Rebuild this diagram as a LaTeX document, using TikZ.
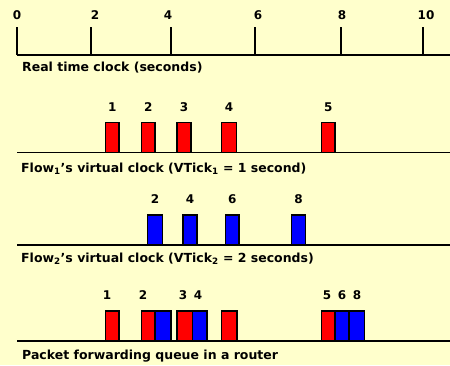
\documentclass[tikz,border=0pt]{standalone}
\usepackage{fontspec}
\setmainfont{DejaVu Sans}
\usetikzlibrary{positioning}
\definecolor{bgyellow}{HTML}{FFFFCC}
\definecolor{pktred}{HTML}{FF0000}
\definecolor{pktblue}{HTML}{0000FF}
\tikzset{
    axis/.style={draw=black, line width=1.5pt},
    tickmark/.style={draw=black, line width=1.3pt},
    num/.style={font=\bfseries\fontsize{12}{13}\selectfont, inner sep=0pt},
    caption/.style={font=\bfseries\fontsize{12.5}{14}\selectfont, inner sep=0pt, anchor=west},
    pkt/.style={draw=black, line width=1.2pt, minimum height=30pt,
        inner sep=0pt, outer sep=0pt, anchor=south west}
}
% packet: name, left x, width, base line y, colour, number above
\newcommand{\pkt}[6]{
    \node[pkt,fill=#5,minimum width=#3pt] (#1) at (#2, #4) {};
    \if\relax\detokenize{#6}\relax\else
        \node[num] (#1n) at ([yshift=15.5pt]#1.north) {#6};
    \fi
}
\newcommand{\timeline}[2]{
    \coordinate (#1a) at (17, #2);
    \coordinate (#1b) at (450, #2);
    \draw[axis] (#1a) -- (#1b);
}

\begin{document}
\begin{tikzpicture}[x=1pt, y=-1pt]
        \useasboundingbox[fill=bgyellow] (0,0) rectangle (450,365);
        % real time
        \timeline{real}{55}
        \foreach \t/\x/\lx in {0/17/17, 2/91/95, 4/171/168, 6/255/258, 8/341/342, 10/423/426} {
            \coordinate (tick\t) at (\x, 55);
            \draw[tickmark] (tick\t) -- ++(0,-28);
            \node[num] (lbl\t) at (\lx, 15) {\t};
        }
        \node[caption] (realcap) at (22, 67.5) {Real time clock (seconds)};
        % flow 1
        \timeline{one}{152.7}
        \pkt{a1}{105.5}{13.5}{152.7}{pktred}{1}
        \pkt{a2}{141.5}{13.5}{152.7}{pktred}{2}
        \pkt{a3}{177}{14}{152.7}{pktred}{3}
        \pkt{a4}{221.5}{15}{152.7}{pktred}{4}
        \pkt{a5}{321.5}{13.5}{152.7}{pktred}{5}
        \node[caption] (onecap) at (21, 168.5) {Flow\textsubscript{1}’s virtual clock (VTick\textsubscript{1} = 1 second)};
        % flow 2
        \timeline{two}{245}
        \pkt{b2}{147.5}{15}{245}{pktblue}{2}
        \pkt{b4}{183}{14}{245}{pktblue}{4}
        \pkt{b6}{225.5}{13.5}{245}{pktblue}{6}
        \pkt{b8}{291.5}{14}{245}{pktblue}{8}
        \node[caption] (twocap) at (21, 258.5) {Flow\textsubscript{2}’s virtual clock (VTick\textsubscript{2} = 2 seconds)};
        % router queue
        \timeline{queue}{341}
        \pkt{q1}{105.5}{13.5}{341}{pktred}{}
        \pkt{q2}{141.5}{13.5}{341}{pktred}{}
        \pkt{q3}{155}{16}{341}{pktblue}{}
        \pkt{q4}{177}{15.5}{341}{pktred}{}
        \pkt{q5}{192.5}{14.5}{341}{pktblue}{}
        \pkt{q6}{221.5}{15.5}{341}{pktred}{}
        \pkt{q7}{321.5}{13.5}{341}{pktred}{}
        \pkt{q8}{335}{14}{341}{pktblue}{}
        \pkt{q9}{349}{15.5}{341}{pktblue}{}
        \foreach \n/\x in {1/107, 2/143, 3/183, 4/198, 5/327, 6/342, 8/357} {
            \node[num] (qn\n) at (\x, 295) {\n};
        }
        \node[caption] (queuecap) at (22, 356) {Packet forwarding queue in a router};
\end{tikzpicture}
\end{document}
